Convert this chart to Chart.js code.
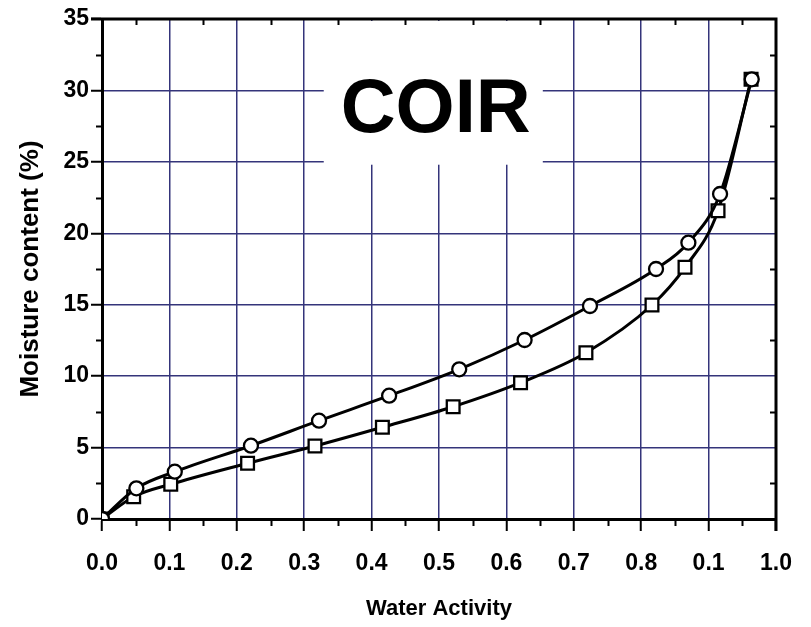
<!DOCTYPE html>
<html><head><meta charset="utf-8">
<script src="https://cdn.jsdelivr.net/npm/chart.js@4/dist/chart.umd.min.js"></script>
<style>html,body{margin:0;padding:0;background:#fff}#wrap{width:811px;height:627px}</style>
</head><body><div id="wrap"><canvas id="c" width="811" height="627"></canvas></div>
<script>
// ---- data ----
const xTickLabels = ['0.0','0.1','0.2','0.3','0.4','0.5','0.6','0.7','0.8','0.1','1.0'];
const circleX = [0, 0.051, 0.108, 0.221, 0.322, 0.426, 0.530, 0.627, 0.724, 0.822, 0.870, 0.917, 0.964];
const circleY = [0, 2.15, 3.31, 5.13, 6.88, 8.63, 10.48, 12.53, 14.91, 17.50, 19.34, 22.75, 30.78];
const squareX = [0, 0.047, 0.102, 0.216, 0.316, 0.416, 0.521, 0.621, 0.718, 0.816, 0.865, 0.914, 0.963];
const squareY = [0, 1.56, 2.43, 3.90, 5.11, 6.42, 7.86, 9.54, 11.64, 14.98, 17.62, 21.58, 30.78];
const chartLabel = 'COIR';
const xTitle = 'Water Activity';
const yTitle = 'Moisture content (%)';

const FONT = '"Liberation Sans", Arial, Helvetica, sans-serif';
const GRID = '#34347a';

const toPts = (xs, ys) => xs.map((v, i) => ({x: v, y: ys[i]}));

const framePlugin = {
  id: 'framePlugin',
  beforeDatasetsDraw(chart) {
    const {ctx, scales: {x, y}} = chart;
    ctx.save();
    const x0 = x.getPixelForValue(0.329), x1 = x.getPixelForValue(0.654);
    const y0 = y.getPixelForValue(35) + 2, y1 = y.getPixelForValue(24.8);
    ctx.fillStyle = '#fff';
    ctx.fillRect(x0, y0, x1 - x0, y1 - y0);
    ctx.fillStyle = '#000';
    ctx.font = 'bold 76px ' + FONT;
    ctx.textAlign = 'center';
    ctx.textBaseline = 'alphabetic';
    ctx.fillText(chartLabel, x.getPixelForValue(0.495), y.getPixelForValue(27.1));
    ctx.restore();
  },
  afterDraw(chart) {
    const {ctx, chartArea: a, scales: {x, y}} = chart;
    ctx.save();
    ctx.strokeStyle = '#000';
    ctx.lineWidth = 2;
    ctx.beginPath();
    for (let v = 0.05; v < 1; v += 0.1) {
      const px = Math.round(x.getPixelForValue(v)) + 0.5;
      ctx.moveTo(px, a.bottom); ctx.lineTo(px, a.bottom + 7);
      ctx.moveTo(px, a.top); ctx.lineTo(px, a.top + 6);
    }
    for (let v = 2.5; v < 35; v += 5) {
      const py = Math.round(y.getPixelForValue(v)) + 0.5;
      ctx.moveTo(a.left, py); ctx.lineTo(a.left - 6, py);
      ctx.moveTo(a.right, py); ctx.lineTo(a.right - 6, py);
    }
    ctx.stroke();
    ctx.lineWidth = 3;
    ctx.beginPath();
    ctx.moveTo(a.left - 11, a.top); ctx.lineTo(a.right, a.top); ctx.lineTo(a.right, a.bottom + 12);
    ctx.stroke();
    ctx.restore();
  }
};

new Chart(document.getElementById('c'), {
  type: 'line',
  data: {
    datasets: [
      {
        label: 'circles',
        data: toPts(circleX, circleY),
        borderColor: '#000', borderWidth: 3,
        pointStyle: 'circle', pointRadius: 7,
        pointBackgroundColor: '#fff', pointBorderColor: '#000', pointBorderWidth: 2.3,
        cubicInterpolationMode: 'monotone', fill: false
      },
      {
        label: 'squares',
        data: toPts(squareX, squareY),
        borderColor: '#000', borderWidth: 3,
        pointStyle: 'rect', pointRadius: 9,
        pointBackgroundColor: '#fff', pointBorderColor: '#000', pointBorderWidth: 2.3,
        cubicInterpolationMode: 'monotone', fill: false
      }
    ]
  },
  options: {
    responsive: false,
    animation: false,
    events: [],
    layout: {padding: {left: 0, right: 35, top: 19, bottom: 0}},
    plugins: {legend: {display: false}, tooltip: {enabled: false}},
    scales: {
      x: {
        type: 'linear', min: 0, max: 1,
        afterFit(s) { s.height = 108; },
        afterBuildTicks(s) { s.ticks = xTickLabels.map((t, i) => ({value: i / 10})); },
        ticks: {
          callback: (v, i) => xTickLabels[i],
          color: '#000', font: {family: FONT, size: 23, weight: 'bold'},
          padding: 19, maxRotation: 0, autoSkip: false
        },
        grid: {color: GRID, lineWidth: 1.5, tickColor: '#000', tickWidth: 2, tickLength: 12},
        border: {color: '#000', width: 3},
        title: {display: true, text: xTitle, color: '#000',
          font: {family: FONT, size: 22, weight: 'bold'}, padding: {top: 0, bottom: 5}}
      },
      y: {
        type: 'linear', min: 0, max: 35,
        afterFit(s) { s.width = 102; },
        ticks: {
          stepSize: 5, color: '#000',
          font: {family: FONT, size: 23, weight: 'bold'}, padding: 2
        },
        grid: {color: GRID, lineWidth: 1.5, tickColor: '#000', tickWidth: 2, tickLength: 11},
        border: {color: '#000', width: 3},
        title: {display: true, text: yTitle, color: '#000',
          font: {family: FONT, size: 26, weight: 'bold'}, padding: {top: 15, bottom: 0}}
      }
    }
  },
  plugins: [framePlugin]
});
</script>
</body></html>
